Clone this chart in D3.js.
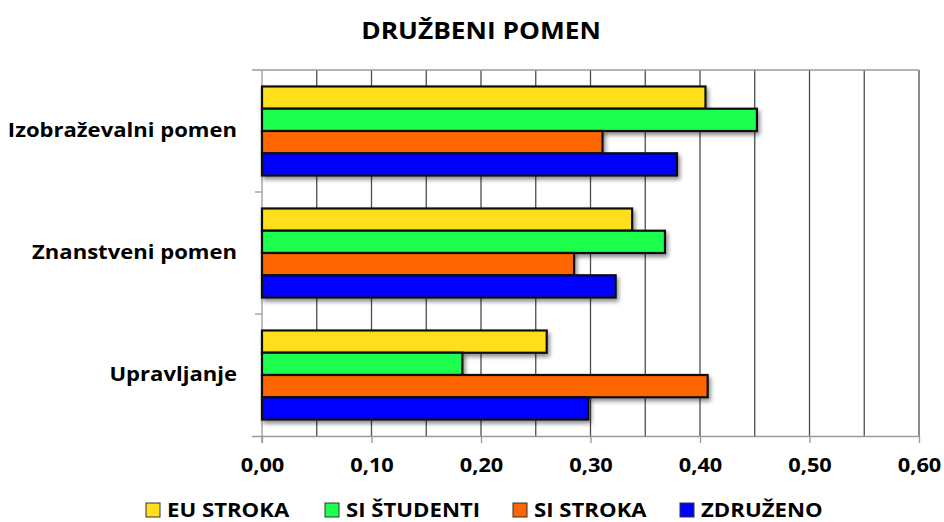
<!DOCTYPE html>
<html>
<head>
<meta charset="utf-8">
<script src="https://cdn.jsdelivr.net/npm/d3@7"></script>
<style>
  html, body { margin: 0; padding: 0; background: #fff; }
  svg { display: block; font-family: "Open Sans", "Noto Sans", sans-serif; }
</style>
</head>
<body>
<svg id="chart" width="944" height="522"></svg>
<script>
// Categories (top to bottom) and the four series
const categories = ["Izobraževalni pomen", "Znanstveni pomen", "Upravljanje"];
const seriesNames = ["EU STROKA", "SI ŠTUDENTI", "SI STROKA", "ZDRUŽENO"];
const seriesColors = ["#ffdf1f", "#1dff50", "#ff6600", "#0000ff"];
const euStroka   = [0.405, 0.338, 0.260];
const siStudenti = [0.452, 0.368, 0.183];
const siStroka   = [0.311, 0.285, 0.407];
const zdruzeno   = [0.379, 0.323, 0.298];
const xTicks = [0, 0.1, 0.2, 0.3, 0.4, 0.5, 0.6];
const gridValues = [0.05, 0.1, 0.15, 0.2, 0.25, 0.3, 0.35, 0.4, 0.45, 0.5, 0.55, 0.6];

const seriesValues = [euStroka, siStudenti, siStroka, zdruzeno];

const svg = d3.select("#chart");
const m = { left: 262, right: 919, top: 70, bottom: 436 };

const x = d3.scaleLinear().domain([0, 0.6]).range([m.left, m.right]);
const y = d3.scaleBand().domain(categories).range([m.top, m.bottom]);
const inner = d3.scaleBand().domain(seriesNames)
  .range([0, y.bandwidth()]).paddingOuter(0.74).paddingInner(0);

// Text is drawn slightly widened
const SX = 1.12;

// Drop shadow for the bars
const defs = svg.append("defs");
const f = defs.append("filter").attr("id", "shadow")
  .attr("x", "-10%").attr("y", "-30%").attr("width", "130%").attr("height", "190%");
f.append("feGaussianBlur").attr("in", "SourceAlpha").attr("stdDeviation", 2.2).attr("result", "b");
f.append("feOffset").attr("in", "b").attr("dx", 2).attr("dy", 3).attr("result", "o");
f.append("feComponentTransfer").attr("in", "o").attr("result", "s")
  .append("feFuncA").attr("type", "linear").attr("slope", 0.45);
const mg = f.append("feMerge");
mg.append("feMergeNode").attr("in", "s");
mg.append("feMergeNode").attr("in", "SourceGraphic");

// Title
svg.append("text").attr("transform", `translate(481,39) scale(${SX},1)`)
  .attr("text-anchor", "middle")
  .attr("font-size", 23.5).attr("font-weight", 700).text("DRUŽBENI POMEN");

// Vertical gridlines
svg.append("g").selectAll("line").data(gridValues).join("line")
  .attr("x1", d => x(d)).attr("x2", d => x(d))
  .attr("y1", m.top).attr("y2", m.bottom)
  .attr("stroke", "#4d4d4d").attr("stroke-width", 1.3);

// Top border of the plot
svg.append("line").attr("x1", m.left - 10).attr("x2", m.right)
  .attr("y1", m.top).attr("y2", m.top).attr("stroke", "#9a9a9a").attr("stroke-width", 1.3);

// Bottom axis
const xAxis = d3.axisBottom(x).tickValues(xTicks).tickSize(7)
  .tickFormat(d => d3.format(".2f")(d).replace(".", ","));
const gx = svg.append("g").attr("transform", `translate(0,${m.bottom})`).call(xAxis);
gx.select(".domain").attr("stroke", "#9a9a9a").attr("stroke-width", 1.3)
  .attr("d", `M${m.left - 10},0.5H${m.right}`);
gx.selectAll(".tick line").attr("stroke", "#9a9a9a").attr("stroke-width", 1.3);
gx.selectAll(".tick text").attr("font-family", "'Open Sans', sans-serif")
  .attr("font-size", 19.5).attr("font-weight", 700).attr("fill", "#000").attr("dy", 0)
  .attr("transform", `translate(0,36) scale(${SX},1)`).attr("y", 0);

// Left axis with ticks between categories
const yBounds = [m.top, ...categories.map(c => y(c) + y.bandwidth())];
svg.append("line").attr("x1", m.left).attr("x2", m.left).attr("y1", m.top).attr("y2", m.bottom + 7)
  .attr("stroke", "#9a9a9a").attr("stroke-width", 1.3);
svg.append("g").selectAll("line").data(yBounds.slice(1, -1)).join("line")
  .attr("x1", m.left - 7).attr("x2", m.left).attr("y1", d => d).attr("y2", d => d)
  .attr("stroke", "#9a9a9a").attr("stroke-width", 1.3);

// Category labels
svg.append("g").selectAll("text").data(categories).join("text")
  .attr("transform", c => `translate(237,${y(c) + y.bandwidth() / 2 + 6}) scale(${SX},1)`)
  .attr("text-anchor", "end").attr("font-size", 19.7).attr("font-weight", 700).text(c => c);

// Bars
const groups = svg.append("g").selectAll("g").data(categories).join("g")
  .attr("transform", c => `translate(0,${y(c)})`);
groups.selectAll("rect")
  .data((c, ci) => seriesNames.map((s, si) => ({ s, si, v: seriesValues[si][ci] })))
  .join("rect")
  .attr("x", x(0)).attr("y", d => inner(d.s))
  .attr("width", d => x(d.v) - x(0)).attr("height", inner.bandwidth())
  .attr("fill", d => seriesColors[d.si])
  .attr("stroke", "#111").attr("stroke-width", 2.2)
  .attr("filter", "url(#shadow)");

// Legend
const legendX = [146, 325, 513, 680];
const lg = svg.append("g").selectAll("g").data(seriesNames).join("g")
  .attr("transform", (d, i) => `translate(${legendX[i]},0)`);
lg.append("rect").attr("x", 0).attr("y", 503).attr("width", 14).attr("height", 14)
  .attr("fill", (d, i) => seriesColors[i]).attr("stroke", "#333").attr("stroke-width", 1);
lg.append("text").attr("transform", `translate(21,517) scale(${SX},1)`)
  .attr("font-size", 19.8).attr("font-weight", 700).text(d => d);
</script>
</body>
</html>
